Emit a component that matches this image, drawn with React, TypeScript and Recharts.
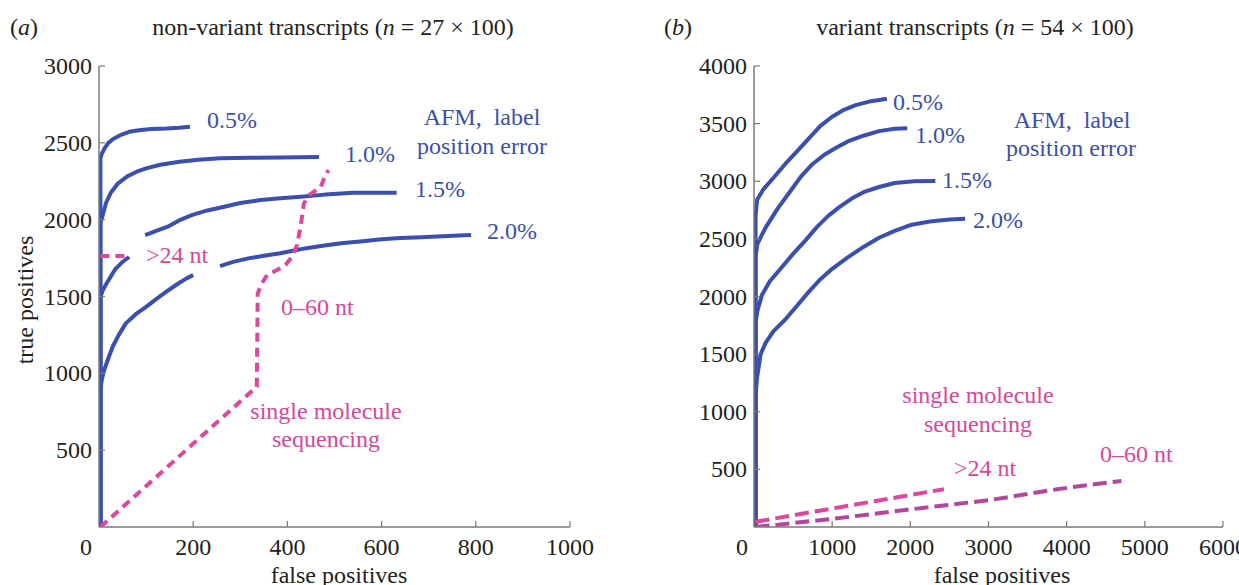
import React from 'react';
import { LineChart, Line, XAxis, YAxis } from 'recharts';

// ---------- Panel (a): non-variant transcripts ----------
const aTicksX = [0, 200, 400, 600, 800, 1000];
const aTicksY = [500, 1000, 1500, 2000, 2500, 3000];

const aAfm05 = [
  { fp: 3, tp: 0 }, { fp: 3, tp: 2400 }, { fp: 6, tp: 2430 }, { fp: 12, tp: 2465 },
  { fp: 20, tp: 2500 }, { fp: 30, tp: 2525 }, { fp: 45, tp: 2550 }, { fp: 64, tp: 2572 },
  { fp: 85, tp: 2582 }, { fp: 110, tp: 2590 }, { fp: 143, tp: 2593 }, { fp: 170, tp: 2598 },
  { fp: 193, tp: 2604 },
];
const aAfm10 = [
  { fp: 3, tp: 0 }, { fp: 3, tp: 1978 }, { fp: 8, tp: 2030 }, { fp: 15, tp: 2110 },
  { fp: 25, tp: 2175 }, { fp: 40, tp: 2235 }, { fp: 60, tp: 2282 }, { fp: 80, tp: 2312 },
  { fp: 100, tp: 2334 }, { fp: 130, tp: 2357 }, { fp: 171, tp: 2377 }, { fp: 210, tp: 2390 },
  { fp: 257, tp: 2399 }, { fp: 320, tp: 2403 }, { fp: 385, tp: 2405 }, { fp: 467, tp: 2407 },
];
const aAfm15 = [
  { fp: 3, tp: 0 }, { fp: 3, tp: 1498 }, { fp: 8, tp: 1540 }, { fp: 15, tp: 1580 },
  { fp: 25, tp: 1630 }, { fp: 35, tp: 1680 }, { fp: 50, tp: 1725 }, { fp: 64, tp: 1757 },
  { fp: 80, tp: null }, { fp: 98, tp: 1900 }, { fp: 120, tp: 1925 }, { fp: 146, tp: 1954 },
  { fp: 170, tp: 1995 }, { fp: 197, tp: 2030 }, { fp: 230, tp: 2060 }, { fp: 266, tp: 2084 },
  { fp: 300, tp: 2108 }, { fp: 343, tp: 2128 }, { fp: 385, tp: 2140 }, { fp: 428, tp: 2149 },
  { fp: 480, tp: 2163 }, { fp: 540, tp: 2175 }, { fp: 632, tp: 2175 },
];
const aAfm20 = [
  { fp: 3, tp: 0 }, { fp: 3, tp: 891 }, { fp: 6, tp: 960 }, { fp: 11, tp: 1021 },
  { fp: 20, tp: 1100 }, { fp: 29, tp: 1173 }, { fp: 42, tp: 1250 }, { fp: 57, tp: 1325 },
  { fp: 78, tp: 1385 }, { fp: 100, tp: 1433 }, { fp: 120, tp: 1480 }, { fp: 143, tp: 1531 },
  { fp: 165, tp: 1578 }, { fp: 186, tp: 1618 }, { fp: 200, tp: 1640 }, { fp: 230, tp: null },
  { fp: 257, tp: 1698 }, { fp: 285, tp: 1725 }, { fp: 317, tp: 1748 }, { fp: 350, tp: 1765 },
  { fp: 385, tp: 1781 }, { fp: 437, tp: 1813 }, { fp: 475, tp: 1830 }, { fp: 514, tp: 1846 },
  { fp: 560, tp: 1860 }, { fp: 600, tp: 1872 }, { fp: 640, tp: 1880 }, { fp: 685, tp: 1885 },
  { fp: 740, tp: 1893 }, { fp: 790, tp: 1900 },
];
const aSms24 = [{ fp: 3, tp: 1763 }, { fp: 66, tp: 1763 }];
const aSms060 = [
  { fp: 3, tp: 0 }, { fp: 335, tp: 913 }, { fp: 337, tp: 1520 }, { fp: 346, tp: 1586 },
  { fp: 357, tp: 1640 }, { fp: 378, tp: 1672 }, { fp: 396, tp: 1705 }, { fp: 410, tp: 1760 },
  { fp: 420, tp: 1830 }, { fp: 428, tp: 1954 }, { fp: 435, tp: 2106 }, { fp: 446, tp: 2160 },
  { fp: 471, tp: 2214 }, { fp: 478, tp: 2269 }, { fp: 487, tp: 2323 },
];

// ---------- Panel (b): variant transcripts ----------
const bTicksX = [0, 1000, 2000, 3000, 4000, 5000, 6000];
const bTicksY = [500, 1000, 1500, 2000, 2500, 3000, 3500, 4000];

const bAfm05 = [
  { fp: 20, tp: 0 }, { fp: 20, tp: 2700 }, { fp: 40, tp: 2840 }, { fp: 120, tp: 2930 },
  { fp: 250, tp: 3030 }, { fp: 400, tp: 3150 }, { fp: 550, tp: 3260 }, { fp: 700, tp: 3370 },
  { fp: 850, tp: 3480 }, { fp: 1000, tp: 3560 }, { fp: 1150, tp: 3620 }, { fp: 1300, tp: 3660 },
  { fp: 1500, tp: 3695 }, { fp: 1700, tp: 3715 },
];
const bAfm10 = [
  { fp: 20, tp: 0 }, { fp: 20, tp: 2350 }, { fp: 45, tp: 2460 }, { fp: 150, tp: 2600 },
  { fp: 300, tp: 2760 }, { fp: 450, tp: 2900 }, { fp: 600, tp: 3040 }, { fp: 750, tp: 3150 },
  { fp: 900, tp: 3230 }, { fp: 1050, tp: 3290 }, { fp: 1200, tp: 3345 }, { fp: 1400, tp: 3395 },
  { fp: 1600, tp: 3435 }, { fp: 1800, tp: 3455 }, { fp: 1960, tp: 3460 },
];
const bAfm15 = [
  { fp: 20, tp: 0 }, { fp: 20, tp: 1780 }, { fp: 45, tp: 1880 }, { fp: 100, tp: 2010 },
  { fp: 200, tp: 2130 }, { fp: 350, tp: 2250 }, { fp: 500, tp: 2370 }, { fp: 650, tp: 2480 },
  { fp: 800, tp: 2600 }, { fp: 950, tp: 2700 }, { fp: 1100, tp: 2780 }, { fp: 1250, tp: 2850 },
  { fp: 1400, tp: 2905 }, { fp: 1600, tp: 2950 }, { fp: 1800, tp: 2985 }, { fp: 2050, tp: 3000 },
  { fp: 2320, tp: 3002 },
];
const bAfm20 = [
  { fp: 20, tp: 0 }, { fp: 20, tp: 1150 }, { fp: 40, tp: 1300 }, { fp: 85, tp: 1500 },
  { fp: 150, tp: 1600 }, { fp: 250, tp: 1700 }, { fp: 400, tp: 1800 }, { fp: 550, tp: 1920 },
  { fp: 700, tp: 2040 }, { fp: 850, tp: 2150 }, { fp: 1000, tp: 2240 }, { fp: 1200, tp: 2340 },
  { fp: 1400, tp: 2430 }, { fp: 1600, tp: 2510 }, { fp: 1800, tp: 2570 }, { fp: 2000, tp: 2620 },
  { fp: 2250, tp: 2650 }, { fp: 2500, tp: 2668 }, { fp: 2700, tp: 2675 },
];
const bSms24 = [{ fp: 20, tp: 45 }, { fp: 1100, tp: 172 }, { fp: 2430, tp: 328 }];
const bSms060 = [
  { fp: 20, tp: 0 }, { fp: 1000, tp: 70 }, { fp: 1960, tp: 150 }, { fp: 3000, tp: 232 },
  { fp: 3900, tp: 330 }, { fp: 4400, tp: 375 }, { fp: 4700, tp: 400 },
];

// ---------- styles ----------
const FONT = "'Liberation Serif', 'Times New Roman', Times, serif";
const BLUE = '#3a4fb0';
const PINK = '#df479d';
const PURPLE = '#b3479f';
const TEXT = '#231f20';
const BLUE_TEXT = '#3c4fab';
const PINK_TEXT = '#d9469b';
const AXIS = '#7a7a7a';

const makeXTick = (zeroShift: number) => (props: any) => {
  const { x, y, payload } = props;
  const v = payload.value;
  return (
    <g>
      {v !== 0 && <line x1={x} x2={x} y1={y} y2={y - 6} stroke={AXIS} strokeWidth={1.2} />}
      <text x={x + (v === 0 ? zeroShift : 0)} y={y + 28} textAnchor="middle"
        fontSize={24} style={{ fontFamily: FONT }} fill={TEXT}>{v}</text>
    </g>
  );
};

const YTick = (props: any) => {
  const { x, y, payload } = props;
  return (
    <g>
      <line x1={x} x2={x + 6} y1={y} y2={y} stroke={AXIS} strokeWidth={1.2} />
      <text x={x - 7} y={y + 8} textAnchor="end" fontSize={24} style={{ fontFamily: FONT }} fill={TEXT}>
        {payload.value}
      </text>
    </g>
  );
};

const blueLine = (data: any[], key: string) => (
  <Line key={key} data={data} dataKey="tp" type="linear" stroke={BLUE} strokeWidth={4}
    dot={false} activeDot={false} isAnimationActive={false} strokeLinejoin="round" />
);
const dashLine = (data: any[], key: string, color: string, dash: string) => (
  <Line key={key} data={data} dataKey="tp" type="linear" stroke={color} strokeWidth={4}
    strokeDasharray={dash} dot={false} activeDot={false} isAnimationActive={false} />
);

const T = (p: { x: number; y: number; c: string; a?: 'start' | 'middle' | 'end'; children: any }) => (
  <text x={p.x} y={p.y} fill={p.c} fontSize={24} style={{ fontFamily: FONT, whiteSpace: 'pre' }}
    textAnchor={p.a || 'start'}>
    {p.children}
  </text>
);

export default function App() {
  return (
    <div style={{ position: 'absolute', left: 0, top: 0, width: 1239, height: 585, background: '#fff' }}>
      <div style={{ position: 'absolute', left: 0, top: 0 }}>
        <LineChart width={620} height={585} margin={{ top: 66, right: 50, bottom: 0, left: 0 }}>
          <XAxis type="number" dataKey="fp" domain={[0, 1000]} ticks={aTicksX} allowDataOverflow
            height={58} tickSize={0} tickMargin={0} tickLine={false} tick={makeXTick(-13)}
            axisLine={{ stroke: AXIS, strokeWidth: 1.5 }} />
          <YAxis type="number" dataKey="tp" domain={[0, 3000]} ticks={aTicksY} allowDataOverflow
            width={99} tickSize={0} tickMargin={0} tickLine={false} tick={YTick}
            axisLine={{ stroke: AXIS, strokeWidth: 1.5 }} />
          {blueLine(aAfm05, 'a05')}
          {blueLine(aAfm10, 'a10')}
          {blueLine(aAfm15, 'a15')}
          {blueLine(aAfm20, 'a20')}
          {dashLine(aSms24, 'a24', PINK, '9 6')}
          {dashLine(aSms060, 'a060', PINK, '9 6')}
        </LineChart>
      </div>
      <div style={{ position: 'absolute', left: 620, top: 0 }}>
        <LineChart width={619} height={585} margin={{ top: 66, right: 16, bottom: 0, left: 0 }}>
          <XAxis type="number" dataKey="fp" domain={[0, 6000]} ticks={bTicksX} allowDataOverflow
            height={58} tickSize={0} tickMargin={0} tickLine={false} tick={makeXTick(-12)}
            axisLine={{ stroke: AXIS, strokeWidth: 1.5 }} />
          <YAxis type="number" dataKey="tp" domain={[0, 4000]} ticks={bTicksY} allowDataOverflow
            width={134} tickSize={0} tickMargin={0} tickLine={false} tick={YTick}
            axisLine={{ stroke: AXIS, strokeWidth: 1.5 }} />
          {blueLine(bAfm05, 'b05')}
          {blueLine(bAfm10, 'b10')}
          {blueLine(bAfm15, 'b15')}
          {blueLine(bAfm20, 'b20')}
          {dashLine(bSms060, 'b060', PURPLE, '14 6')}
          {dashLine(bSms24, 'b24', PINK, '14 6')}
        </LineChart>
      </div>
      <svg width={1239} height={585} style={{ position: 'absolute', left: 0, top: 0, pointerEvents: 'none', fontFamily: FONT }}>
        {/* panel titles */}
        <text x={10} y={35} fontSize={24} fill={TEXT}>(<tspan fontStyle="italic">a</tspan>)</text>
        <text x={333} y={35} fontSize={24} fill={TEXT} textAnchor="middle">
          non-variant transcripts (<tspan fontStyle="italic">n</tspan> = 27 × 100)
        </text>
        <text x={664} y={35} fontSize={24} fill={TEXT}>(<tspan fontStyle="italic">b</tspan>)</text>
        <text x={975} y={35} fontSize={24} fill={TEXT} textAnchor="middle">
          variant transcripts (<tspan fontStyle="italic">n</tspan> = 54 × 100)
        </text>
        {/* axis titles */}
        <text x={339} y={583} fontSize={24} fill={TEXT} textAnchor="middle">false positives</text>
        <text x={1002} y={583} fontSize={24} fill={TEXT} textAnchor="middle">false positives</text>
        <text x={33} y={300} fontSize={24} fill={TEXT} textAnchor="middle"
          transform="rotate(-90 33 300)">true positives</text>
        {/* panel a annotations */}
        <T x={207} y={128} c={BLUE_TEXT}>0.5%</T>
        <T x={345} y={162} c={BLUE_TEXT}>1.0%</T>
        <T x={415} y={197} c={BLUE_TEXT}>1.5%</T>
        <T x={487} y={239} c={BLUE_TEXT}>2.0%</T>
        <T x={482} y={125} c={BLUE_TEXT} a="middle">{'AFM,\u00A0 label'}</T>
        <T x={482} y={154} c={BLUE_TEXT} a="middle">position error</T>
        <T x={146} y={263} c={PINK_TEXT}>&gt;24 nt</T>
        <T x={281} y={315} c={PINK_TEXT}>0–60 nt</T>
        <T x={326} y={419} c={PINK_TEXT} a="middle">single molecule</T>
        <T x={326} y={447} c={PINK_TEXT} a="middle">sequencing</T>
        {/* panel b annotations */}
        <T x={893} y={110} c={BLUE_TEXT}>0.5%</T>
        <T x={915} y={143} c={BLUE_TEXT}>1.0%</T>
        <T x={942} y={188} c={BLUE_TEXT}>1.5%</T>
        <T x={973} y={228} c={BLUE_TEXT}>2.0%</T>
        <T x={1072} y={128} c={BLUE_TEXT} a="middle">{'AFM,\u00A0 label'}</T>
        <T x={1071} y={156} c={BLUE_TEXT} a="middle">position error</T>
        <T x={978} y={403} c={PINK_TEXT} a="middle">single molecule</T>
        <T x={978} y={432} c={PINK_TEXT} a="middle">sequencing</T>
        <T x={954} y={476} c={PINK_TEXT}>&gt;24 nt</T>
        <T x={1100} y={462} c={PINK_TEXT}>0–60 nt</T>
      </svg>
    </div>
  );
}
